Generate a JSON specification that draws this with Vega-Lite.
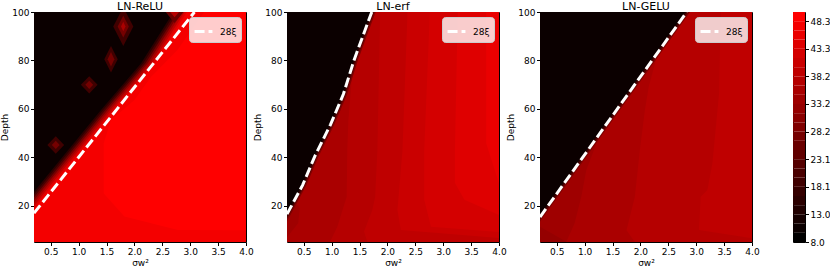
{
"$schema": "https://vega.github.io/schema/vega-lite/v6.json",
"padding": {"left": 0, "top": 0, "right": 0, "bottom": 0},
"background": "white",
"datasets": {
"reg": [
{"p":"R","r":"00","d":5,"lo":0.2,"hi":4,"v":47.46},{"p":"R","r":"00","d":100,"lo":0.2,"hi":4,"v":47.46},
{"p":"R","r":"01","d":5,"lo":4,"hi":4,"v":49.14},{"p":"R","r":"01","d":9.9,"lo":4,"hi":4,"v":49.14},{"p":"R","r":"01","d":10,"lo":2.78,"hi":4,"v":49.14},{"p":"R","r":"01","d":15.5,"lo":1.82,"hi":4,"v":49.14},{"p":"R","r":"01","d":25,"lo":1.45,"hi":4,"v":49.14},{"p":"R","r":"01","d":45.8,"lo":1.45,"hi":4,"v":49.14},{"p":"R","r":"01","d":55.4,"lo":1.58,"hi":4,"v":49.14},{"p":"R","r":"01","d":63.7,"lo":2.0,"hi":4,"v":49.14},{"p":"R","r":"01","d":73.3,"lo":2.3,"hi":4,"v":49.14},{"p":"R","r":"01","d":84.3,"lo":2.77,"hi":4,"v":49.14},{"p":"R","r":"01","d":100,"lo":3.25,"hi":4,"v":49.14},
{"p":"R","r":"02","d":5,"lo":0.2,"hi":-0.25,"v":44.10},{"p":"R","r":"02","d":25.8,"lo":0.2,"hi":0.44,"v":44.10},{"p":"R","r":"02","d":59.5,"lo":0.2,"hi":1.64,"v":44.10},{"p":"R","r":"02","d":78.8,"lo":0.2,"hi":2.36,"v":44.10},{"p":"R","r":"02","d":100,"lo":0.2,"hi":2.94,"v":44.10},
{"p":"R","r":"03","d":5,"lo":0.2,"hi":-0.29,"v":39.06},{"p":"R","r":"03","d":25.8,"lo":0.2,"hi":0.40,"v":39.06},{"p":"R","r":"03","d":59.5,"lo":0.2,"hi":1.60,"v":39.06},{"p":"R","r":"03","d":78.8,"lo":0.2,"hi":2.32,"v":39.06},{"p":"R","r":"03","d":100,"lo":0.2,"hi":2.90,"v":39.06},
{"p":"R","r":"04","d":5,"lo":0.2,"hi":-0.33,"v":34.03},{"p":"R","r":"04","d":25.8,"lo":0.2,"hi":0.36,"v":34.03},{"p":"R","r":"04","d":59.5,"lo":0.2,"hi":1.56,"v":34.03},{"p":"R","r":"04","d":78.8,"lo":0.2,"hi":2.28,"v":34.03},{"p":"R","r":"04","d":100,"lo":0.2,"hi":2.86,"v":34.03},
{"p":"R","r":"05","d":5,"lo":0.2,"hi":-0.37,"v":27.31},{"p":"R","r":"05","d":25.8,"lo":0.2,"hi":0.32,"v":27.31},{"p":"R","r":"05","d":59.5,"lo":0.2,"hi":1.52,"v":27.31},{"p":"R","r":"05","d":78.8,"lo":0.2,"hi":2.24,"v":27.31},{"p":"R","r":"05","d":100,"lo":0.2,"hi":2.82,"v":27.31},
{"p":"R","r":"06","d":5,"lo":0.2,"hi":-0.41,"v":20.59},{"p":"R","r":"06","d":25.8,"lo":0.2,"hi":0.28,"v":20.59},{"p":"R","r":"06","d":59.5,"lo":0.2,"hi":1.48,"v":20.59},{"p":"R","r":"06","d":78.8,"lo":0.2,"hi":2.20,"v":20.59},{"p":"R","r":"06","d":100,"lo":0.2,"hi":2.78,"v":20.59},
{"p":"R","r":"07","d":5,"lo":0.2,"hi":-0.45,"v":15.56},{"p":"R","r":"07","d":25.8,"lo":0.2,"hi":0.24,"v":15.56},{"p":"R","r":"07","d":59.5,"lo":0.2,"hi":1.44,"v":15.56},{"p":"R","r":"07","d":78.8,"lo":0.2,"hi":2.16,"v":15.56},{"p":"R","r":"07","d":100,"lo":0.2,"hi":2.74,"v":15.56},
{"p":"R","r":"08","d":5,"lo":0.2,"hi":-0.49,"v":10.52},{"p":"R","r":"08","d":25.8,"lo":0.2,"hi":0.20,"v":10.52},{"p":"R","r":"08","d":59.5,"lo":0.2,"hi":1.40,"v":10.52},{"p":"R","r":"08","d":78.8,"lo":0.2,"hi":2.12,"v":10.52},{"p":"R","r":"08","d":100,"lo":0.2,"hi":2.70,"v":10.52},
{"p":"R","r":"09","d":41.5,"lo":0.59,"hi":0.59,"v":18.91},{"p":"R","r":"09","d":45.1,"lo":0.44,"hi":0.74,"v":18.91},{"p":"R","r":"09","d":48.7,"lo":0.59,"hi":0.59,"v":18.91},
{"p":"R","r":"10","d":43.4,"lo":0.59,"hi":0.59,"v":27.31},{"p":"R","r":"10","d":45.1,"lo":0.52,"hi":0.66,"v":27.31},{"p":"R","r":"10","d":46.8,"lo":0.59,"hi":0.59,"v":27.31},
{"p":"R","r":"11","d":66.3,"lo":1.19,"hi":1.19,"v":18.91},{"p":"R","r":"11","d":69.9,"lo":1.04,"hi":1.34,"v":18.91},{"p":"R","r":"11","d":73.5,"lo":1.19,"hi":1.19,"v":18.91},
{"p":"R","r":"12","d":68.2,"lo":1.19,"hi":1.19,"v":27.31},{"p":"R","r":"12","d":69.9,"lo":1.12,"hi":1.26,"v":27.31},{"p":"R","r":"12","d":71.6,"lo":1.19,"hi":1.19,"v":27.31},
{"p":"R","r":"13","d":75,"lo":1.58,"hi":1.58,"v":18.91},{"p":"R","r":"13","d":80.5,"lo":1.46,"hi":1.70,"v":18.91},{"p":"R","r":"13","d":86,"lo":1.58,"hi":1.58,"v":18.91},
{"p":"R","r":"14","d":77.5,"lo":1.58,"hi":1.58,"v":27.31},{"p":"R","r":"14","d":80.5,"lo":1.52,"hi":1.64,"v":27.31},{"p":"R","r":"14","d":83.5,"lo":1.58,"hi":1.58,"v":27.31},
{"p":"R","r":"15","d":86,"lo":1.8,"hi":1.8,"v":18.91},{"p":"R","r":"15","d":94,"lo":1.62,"hi":1.98,"v":18.91},{"p":"R","r":"15","d":102,"lo":1.8,"hi":1.8,"v":18.91},
{"p":"R","r":"16","d":89.5,"lo":1.8,"hi":1.8,"v":27.31},{"p":"R","r":"16","d":94,"lo":1.7,"hi":1.9,"v":27.31},{"p":"R","r":"16","d":98.5,"lo":1.8,"hi":1.8,"v":27.31},
{"p":"R","r":"17","d":92,"lo":1.8,"hi":1.8,"v":35.71},{"p":"R","r":"17","d":94,"lo":1.76,"hi":1.84,"v":35.71},{"p":"R","r":"17","d":96,"lo":1.8,"hi":1.8,"v":35.71},
{"p":"R","r":"18","d":95.5,"lo":2.72,"hi":2.72,"v":25.63},{"p":"R","r":"18","d":100,"lo":2.56,"hi":2.88,"v":25.63},{"p":"R","r":"18","d":104.5,"lo":2.72,"hi":2.72,"v":25.63},
{"p":"R","r":"19","d":97.8,"lo":2.72,"hi":2.72,"v":37.39},{"p":"R","r":"19","d":100,"lo":2.64,"hi":2.80,"v":37.39},{"p":"R","r":"19","d":102.2,"lo":2.72,"hi":2.72,"v":37.39},

{"p":"E","r":"00","d":5,"lo":0.2,"hi":4,"v":34.03},{"p":"E","r":"00","d":100,"lo":0.2,"hi":4,"v":34.03},
{"p":"E","r":"01","d":5,"lo":0.2,"hi":4,"v":35.71},{"p":"E","r":"01","d":7,"lo":0.2,"hi":4,"v":35.71},{"p":"E","r":"01","d":12.7,"lo":0.40,"hi":4,"v":35.71},{"p":"E","r":"01","d":19,"lo":0.43,"hi":4,"v":35.71},{"p":"E","r":"01","d":23,"lo":0.3,"hi":4,"v":35.71},{"p":"E","r":"01","d":100,"lo":0.2,"hi":4,"v":35.71},
{"p":"E","r":"02","d":5,"lo":0.97,"hi":4,"v":37.39},{"p":"E","r":"02","d":11.2,"lo":1.10,"hi":4,"v":37.39},{"p":"E","r":"02","d":23.7,"lo":1.27,"hi":4,"v":37.39},{"p":"E","r":"02","d":43,"lo":1.28,"hi":4,"v":37.39},{"p":"E","r":"02","d":55.4,"lo":1.30,"hi":4,"v":37.39},{"p":"E","r":"02","d":74.7,"lo":1.37,"hi":4,"v":37.39},{"p":"E","r":"02","d":80,"lo":1.40,"hi":4,"v":37.39},{"p":"E","r":"02","d":100,"lo":1.6,"hi":4,"v":37.39},
{"p":"E","r":"03","d":5,"lo":1.64,"hi":4,"v":39.06},{"p":"E","r":"03","d":9.3,"lo":1.58,"hi":4,"v":39.06},{"p":"E","r":"03","d":18.2,"lo":1.73,"hi":4,"v":39.06},{"p":"E","r":"03","d":23.7,"lo":1.78,"hi":4,"v":39.06},{"p":"E","r":"03","d":43,"lo":1.82,"hi":4,"v":39.06},{"p":"E","r":"03","d":100,"lo":1.87,"hi":4,"v":39.06},
{"p":"E","r":"04","d":5,"lo":4,"hi":4,"v":40.74},{"p":"E","r":"04","d":6.7,"lo":4,"hi":4,"v":40.74},{"p":"E","r":"04","d":10,"lo":2.24,"hi":4,"v":40.74},{"p":"E","r":"04","d":18.2,"lo":2.18,"hi":4,"v":40.74},{"p":"E","r":"04","d":43,"lo":2.27,"hi":4,"v":40.74},{"p":"E","r":"04","d":100,"lo":2.36,"hi":4,"v":40.74},
{"p":"E","r":"05","d":5,"lo":4,"hi":4,"v":42.42},{"p":"E","r":"05","d":9.1,"lo":4,"hi":4,"v":42.42},{"p":"E","r":"05","d":11.3,"lo":2.78,"hi":4,"v":42.42},{"p":"E","r":"05","d":22.4,"lo":2.66,"hi":4,"v":42.42},{"p":"E","r":"05","d":43,"lo":2.66,"hi":4,"v":42.42},{"p":"E","r":"05","d":100,"lo":2.76,"hi":4,"v":42.42},
{"p":"E","r":"06","d":5,"lo":4,"hi":4,"v":44.10},{"p":"E","r":"06","d":16.2,"lo":4,"hi":4,"v":44.10},{"p":"E","r":"06","d":22.4,"lo":3.38,"hi":4,"v":44.10},{"p":"E","r":"06","d":29.4,"lo":3.21,"hi":4,"v":44.10},{"p":"E","r":"06","d":43,"lo":3.21,"hi":4,"v":44.10},{"p":"E","r":"06","d":100,"lo":3.26,"hi":4,"v":44.10},
{"p":"E","r":"07","d":5,"lo":4,"hi":4,"v":45.78},{"p":"E","r":"07","d":29.2,"lo":4,"hi":4,"v":45.78},{"p":"E","r":"07","d":45.8,"lo":3.77,"hi":4,"v":45.78},{"p":"E","r":"07","d":100,"lo":3.77,"hi":4,"v":45.78},
{"p":"E","r":"08","d":5,"lo":0.2,"hi":0.00,"v":28.99},{"p":"E","r":"08","d":16.5,"lo":0.2,"hi":0.27,"v":28.99},{"p":"E","r":"08","d":28.5,"lo":0.2,"hi":0.55,"v":28.99},{"p":"E","r":"08","d":40.5,"lo":0.2,"hi":0.77,"v":28.99},{"p":"E","r":"08","d":53.5,"lo":0.2,"hi":1.05,"v":28.99},{"p":"E","r":"08","d":66,"lo":0.2,"hi":1.28,"v":28.99},{"p":"E","r":"08","d":80,"lo":0.2,"hi":1.47,"v":28.99},{"p":"E","r":"08","d":92.6,"lo":0.2,"hi":1.67,"v":28.99},{"p":"E","r":"08","d":100,"lo":0.2,"hi":1.79,"v":28.99},
{"p":"E","r":"09","d":5,"lo":0.2,"hi":-0.025,"v":22.27},{"p":"E","r":"09","d":16.5,"lo":0.2,"hi":0.245,"v":22.27},{"p":"E","r":"09","d":28.5,"lo":0.2,"hi":0.525,"v":22.27},{"p":"E","r":"09","d":40.5,"lo":0.2,"hi":0.745,"v":22.27},{"p":"E","r":"09","d":53.5,"lo":0.2,"hi":1.025,"v":22.27},{"p":"E","r":"09","d":66,"lo":0.2,"hi":1.255,"v":22.27},{"p":"E","r":"09","d":80,"lo":0.2,"hi":1.445,"v":22.27},{"p":"E","r":"09","d":92.6,"lo":0.2,"hi":1.645,"v":22.27},{"p":"E","r":"09","d":100,"lo":0.2,"hi":1.765,"v":22.27},
{"p":"E","r":"10","d":5,"lo":0.2,"hi":-0.05,"v":15.56},{"p":"E","r":"10","d":16.5,"lo":0.2,"hi":0.22,"v":15.56},{"p":"E","r":"10","d":28.5,"lo":0.2,"hi":0.50,"v":15.56},{"p":"E","r":"10","d":40.5,"lo":0.2,"hi":0.72,"v":15.56},{"p":"E","r":"10","d":53.5,"lo":0.2,"hi":1.00,"v":15.56},{"p":"E","r":"10","d":66,"lo":0.2,"hi":1.23,"v":15.56},{"p":"E","r":"10","d":80,"lo":0.2,"hi":1.42,"v":15.56},{"p":"E","r":"10","d":92.6,"lo":0.2,"hi":1.62,"v":15.56},{"p":"E","r":"10","d":100,"lo":0.2,"hi":1.74,"v":15.56},
{"p":"E","r":"11","d":5,"lo":0.2,"hi":-0.08,"v":10.52},{"p":"E","r":"11","d":16.5,"lo":0.2,"hi":0.19,"v":10.52},{"p":"E","r":"11","d":28.5,"lo":0.2,"hi":0.47,"v":10.52},{"p":"E","r":"11","d":40.5,"lo":0.2,"hi":0.69,"v":10.52},{"p":"E","r":"11","d":53.5,"lo":0.2,"hi":0.97,"v":10.52},{"p":"E","r":"11","d":66,"lo":0.2,"hi":1.20,"v":10.52},{"p":"E","r":"11","d":80,"lo":0.2,"hi":1.39,"v":10.52},{"p":"E","r":"11","d":92.6,"lo":0.2,"hi":1.59,"v":10.52},{"p":"E","r":"11","d":100,"lo":0.2,"hi":1.71,"v":10.52},

{"p":"G","r":"00","d":5,"lo":0.2,"hi":4,"v":32.35},{"p":"G","r":"00","d":100,"lo":0.2,"hi":4,"v":32.35},
{"p":"G","r":"01","d":5,"lo":0.68,"hi":4,"v":34.03},{"p":"G","r":"01","d":11.3,"lo":0.2,"hi":4,"v":34.03},{"p":"G","r":"01","d":100,"lo":0.2,"hi":4,"v":34.03},
{"p":"G","r":"02","d":5,"lo":0.67,"hi":4,"v":35.71},{"p":"G","r":"02","d":12.7,"lo":0.82,"hi":4,"v":35.71},{"p":"G","r":"02","d":23.7,"lo":0.94,"hi":4,"v":35.71},{"p":"G","r":"02","d":34.7,"lo":1.03,"hi":4,"v":35.71},{"p":"G","r":"02","d":45,"lo":1.2,"hi":4,"v":35.71},{"p":"G","r":"02","d":52,"lo":1.3,"hi":4,"v":35.71},{"p":"G","r":"02","d":100,"lo":2.6,"hi":4,"v":35.71},
{"p":"G","r":"03","d":5,"lo":1.9,"hi":4,"v":37.39},{"p":"G","r":"03","d":9.9,"lo":1.75,"hi":4,"v":37.39},{"p":"G","r":"03","d":23.7,"lo":1.9,"hi":4,"v":37.39},{"p":"G","r":"03","d":43,"lo":1.99,"hi":4,"v":37.39},{"p":"G","r":"03","d":59.5,"lo":2.08,"hi":4,"v":37.39},{"p":"G","r":"03","d":69.2,"lo":2.15,"hi":4,"v":37.39},{"p":"G","r":"03","d":82,"lo":2.3,"hi":4,"v":37.39},{"p":"G","r":"03","d":100,"lo":2.7,"hi":4,"v":37.39},
{"p":"G","r":"04","d":5,"lo":4,"hi":4,"v":39.06},{"p":"G","r":"04","d":6.5,"lo":4,"hi":4,"v":39.06},{"p":"G","r":"04","d":10,"lo":3.05,"hi":4,"v":39.06},{"p":"G","r":"04","d":23.7,"lo":3.08,"hi":4,"v":39.06},{"p":"G","r":"04","d":26.5,"lo":3.2,"hi":4,"v":39.06},{"p":"G","r":"04","d":37.5,"lo":3.29,"hi":4,"v":39.06},{"p":"G","r":"04","d":66.4,"lo":3.41,"hi":4,"v":39.06},{"p":"G","r":"04","d":100,"lo":3.44,"hi":4,"v":39.06},
{"p":"G","r":"05","d":5,"lo":0.2,"hi":-0.06,"v":28.99},{"p":"G","r":"05","d":100,"lo":0.2,"hi":2.89,"v":28.99},
{"p":"G","r":"06","d":5,"lo":0.2,"hi":-0.09,"v":22.27},{"p":"G","r":"06","d":100,"lo":0.2,"hi":2.86,"v":22.27},
{"p":"G","r":"07","d":5,"lo":0.2,"hi":-0.12,"v":15.56},{"p":"G","r":"07","d":100,"lo":0.2,"hi":2.83,"v":15.56},
{"p":"G","r":"08","d":5,"lo":0.2,"hi":-0.15,"v":10.52},{"p":"G","r":"08","d":100,"lo":0.2,"hi":2.80,"v":10.52}
],
"ln": [
{"p":"R","k":"28ξ","x":0.2,"y":16.9},{"p":"R","k":"28ξ","x":3.077,"y":100},
{"p":"E","k":"28ξ","x":0.2,"y":16.5},{"p":"E","k":"28ξ","x":0.48,"y":28.5},{"p":"E","k":"28ξ","x":0.70,"y":40.5},{"p":"E","k":"28ξ","x":0.98,"y":53.5},{"p":"E","k":"28ξ","x":1.21,"y":66},{"p":"E","k":"28ξ","x":1.40,"y":80},{"p":"E","k":"28ξ","x":1.60,"y":92.6},{"p":"E","k":"28ξ","x":1.72,"y":100},
{"p":"G","k":"28ξ","x":0.2,"y":15.3},{"p":"G","k":"28ξ","x":2.83,"y":100}
],
"cb": [
{"lo":8.0,"hi":9.679,"v":8.84},{"lo":9.679,"hi":11.358,"v":10.52},{"lo":11.358,"hi":13.038,"v":12.20},{"lo":13.038,"hi":14.717,"v":13.88},{"lo":14.717,"hi":16.396,"v":15.56},{"lo":16.396,"hi":18.075,"v":17.24},{"lo":18.075,"hi":19.754,"v":18.91},{"lo":19.754,"hi":21.433,"v":20.59},{"lo":21.433,"hi":23.113,"v":22.27},{"lo":23.113,"hi":24.792,"v":23.95},{"lo":24.792,"hi":26.471,"v":25.63},{"lo":26.471,"hi":28.15,"v":27.31},{"lo":28.15,"hi":29.829,"v":28.99},{"lo":29.829,"hi":31.508,"v":30.67},{"lo":31.508,"hi":33.188,"v":32.35},{"lo":33.188,"hi":34.867,"v":34.03},{"lo":34.867,"hi":36.546,"v":35.71},{"lo":36.546,"hi":38.225,"v":37.39},{"lo":38.225,"hi":39.904,"v":39.06},{"lo":39.904,"hi":41.583,"v":40.74},{"lo":41.583,"hi":43.263,"v":42.42},{"lo":43.263,"hi":44.942,"v":44.10},{"lo":44.942,"hi":46.621,"v":45.78},{"lo":46.621,"hi":48.3,"v":47.46},{"lo":48.3,"hi":49.979,"v":49.14}
]
},
"config": {
"font": "DejaVu Sans",
"view": {"stroke": "black", "strokeWidth": 1},
"axis": {"grid": false, "domain": false, "labelFont": "DejaVu Sans", "labelFontSize": 9, "labelColor": "black", "labelOverlap": false, "tickColor": "black", "tickSize": 3.5, "labelPadding": 1.5, "titleFont": "DejaVu Sans", "titleFontSize": 9, "titleFontWeight": "normal", "titleColor": "black", "titlePadding": 2},
"title": {"font": "DejaVu Sans", "fontSize": 11, "fontWeight": "normal", "offset": -4, "color": "black"}
},
"bounds": "flush",
"spacing": 41,
"resolve": {"scale": {"strokeDash": "independent"}, "legend": {"strokeDash": "independent"}},
"hconcat": [
{"width": 212, "height": 230, "title": "LN-ReLU",
"layer": [
{"data": {"name": "reg"}, "transform": [{"filter": "datum.p === 'R'"}],
"mark": {"type": "area", "orient": "horizontal", "clip": true},
"encoding": {
"y": {"field": "d", "type": "quantitative", "scale": {"domain": [5, 100], "nice": false, "zero": false}, "axis": {"values": [20, 40, 60, 80, 100], "title": "Depth"}},
"x": {"field": "lo", "type": "quantitative", "scale": {"domain": [0.2, 4], "nice": false, "zero": false}, "axis": {"tickCount": 8, "labelOverlap": false, "labelFlush": false, "format": ".1f", "title": "σw²"}},
"x2": {"field": "hi"},
"detail": {"field": "r", "type": "nominal"},
"color": {"field": "v", "type": "quantitative", "scale": {"domain": [8.84, 49.14], "range": ["#000000", "#ff0000"], "interpolate": "rgb"}, "legend": null}}},
{"data": {"name": "ln"}, "transform": [{"filter": "datum.p === 'R'"}],
"mark": {"type": "line", "color": "white", "strokeWidth": 3, "clip": true},
"encoding": {"x": {"field": "x", "type": "quantitative"}, "y": {"field": "y", "type": "quantitative"},
"strokeDash": {"field": "k", "type": "nominal", "scale": {"domain": ["28ξ"], "range": [[10, 4]]},
"legend": {"title": null, "orient": "top-right", "offset": 5, "fillColor": "rgba(255,255,255,0.8)", "strokeColor": "#cccccc", "cornerRadius": 3, "padding": 4, "labelFontSize": 9, "labelColor": "black", "labelOffset": 6, "symbolType": "stroke", "symbolStrokeWidth": 3, "symbolSize": 320, "symbolStrokeColor": "white"}}}}
]},
{"width": 212, "height": 230, "title": "LN-erf",
"layer": [
{"data": {"name": "reg"}, "transform": [{"filter": "datum.p === 'E'"}],
"mark": {"type": "area", "orient": "horizontal", "clip": true},
"encoding": {
"y": {"field": "d", "type": "quantitative", "scale": {"domain": [5, 100], "nice": false, "zero": false}, "axis": {"values": [20, 40, 60, 80, 100], "title": "Depth"}},
"x": {"field": "lo", "type": "quantitative", "scale": {"domain": [0.2, 4], "nice": false, "zero": false}, "axis": {"tickCount": 8, "labelOverlap": false, "labelFlush": false, "format": ".1f", "title": "σw²"}},
"x2": {"field": "hi"},
"detail": {"field": "r", "type": "nominal"},
"color": {"field": "v", "type": "quantitative", "scale": {"domain": [8.84, 49.14], "range": ["#000000", "#ff0000"], "interpolate": "rgb"}, "legend": null}}},
{"data": {"name": "ln"}, "transform": [{"filter": "datum.p === 'E'"}],
"mark": {"type": "line", "color": "white", "strokeWidth": 3, "clip": true},
"encoding": {"x": {"field": "x", "type": "quantitative"}, "y": {"field": "y", "type": "quantitative"},
"strokeDash": {"field": "k", "type": "nominal", "scale": {"domain": ["28ξ"], "range": [[10, 4]]},
"legend": {"title": null, "orient": "top-right", "offset": 5, "fillColor": "rgba(255,255,255,0.8)", "strokeColor": "#cccccc", "cornerRadius": 3, "padding": 4, "labelFontSize": 9, "labelColor": "black", "labelOffset": 6, "symbolType": "stroke", "symbolStrokeWidth": 3, "symbolSize": 320, "symbolStrokeColor": "white"}}}}
]},
{"width": 212, "height": 230, "title": "LN-GELU",
"layer": [
{"data": {"name": "reg"}, "transform": [{"filter": "datum.p === 'G'"}],
"mark": {"type": "area", "orient": "horizontal", "clip": true},
"encoding": {
"y": {"field": "d", "type": "quantitative", "scale": {"domain": [5, 100], "nice": false, "zero": false}, "axis": {"values": [20, 40, 60, 80, 100], "title": "Depth"}},
"x": {"field": "lo", "type": "quantitative", "scale": {"domain": [0.2, 4], "nice": false, "zero": false}, "axis": {"tickCount": 8, "labelOverlap": false, "labelFlush": false, "format": ".1f", "title": "σw²"}},
"x2": {"field": "hi"},
"detail": {"field": "r", "type": "nominal"},
"color": {"field": "v", "type": "quantitative", "scale": {"domain": [8.84, 49.14], "range": ["#000000", "#ff0000"], "interpolate": "rgb"}, "legend": null}}},
{"data": {"name": "ln"}, "transform": [{"filter": "datum.p === 'G'"}],
"mark": {"type": "line", "color": "white", "strokeWidth": 3, "clip": true},
"encoding": {"x": {"field": "x", "type": "quantitative"}, "y": {"field": "y", "type": "quantitative"},
"strokeDash": {"field": "k", "type": "nominal", "scale": {"domain": ["28ξ"], "range": [[10, 4]]},
"legend": {"title": null, "orient": "top-right", "offset": 5, "fillColor": "rgba(255,255,255,0.8)", "strokeColor": "#cccccc", "cornerRadius": 3, "padding": 4, "labelFontSize": 9, "labelColor": "black", "labelOffset": 6, "symbolType": "stroke", "symbolStrokeWidth": 3, "symbolSize": 320, "symbolStrokeColor": "white"}}}}
]},
{"width": 12, "height": 230,
"data": {"name": "cb"},
"mark": {"type": "rect"},
"encoding": {
"y": {"field": "lo", "type": "quantitative", "scale": {"domain": [8, 49.979], "nice": false, "zero": false}, "axis": {"orient": "right", "values": [8, 13.04, 18.08, 23.11, 28.16, 33.19, 38.23, 43.26, 48.3], "format": ".1f", "title": null}},
"y2": {"field": "hi"},
"color": {"field": "v", "type": "quantitative", "scale": {"domain": [8.84, 49.14], "range": ["#000000", "#ff0000"], "interpolate": "rgb"}, "legend": null}}}
]
}
